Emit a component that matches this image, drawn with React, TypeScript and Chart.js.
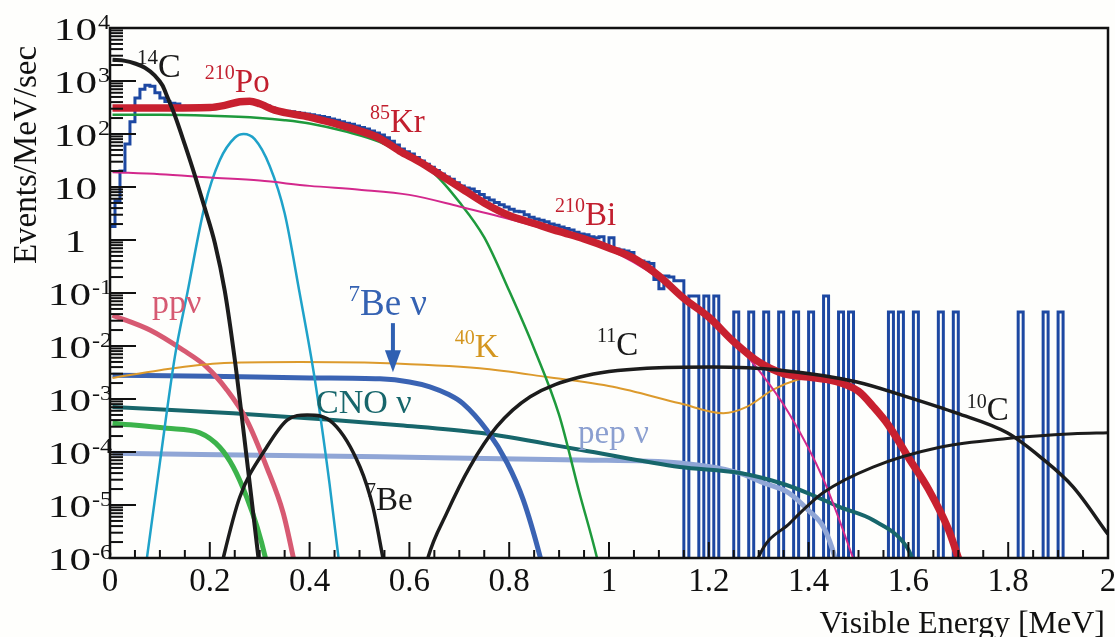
import React, { useEffect, useRef } from 'react';
import { Chart, registerables } from 'chart.js';

Chart.register(...registerables);

const SERIF = '"Liberation Serif", "Times New Roman", Times, serif';
const W = 1115;
const H = 637;

// Measured spectrum (Events/MeV/sec) in 0.01 MeV bins starting at 0 MeV
const BIN = 0.01;
const measured = [
  1.8, 5.5, 20, 65, 170, 480, 700, 830, 800, 600,
  480, 410, 380, 370, 335, 318, 312, 308, 314, 316,
  318, 326, 335, 350, 372, 392, 405, 418, 415, 396,
  370, 338, 310, 290, 278, 268, 262, 255, 247, 238,
  230, 222, 213, 204, 192, 182, 170, 160, 152, 142,
  133, 124, 114, 105, 96, 85, 73, 62, 52, 46,
  42, 36, 31, 27, 23.5, 20.5, 17.5, 15.5, 14, 12,
  10.5, 9.6, 9.2, 8.2, 7.2, 6.3, 5.7, 5.1, 4.6, 4.2,
  3.8, 3.5, 3.4, 3.0, 2.7, 2.5, 2.35, 2.2, 2.0, 1.9,
  1.75, 1.65, 1.55, 1.4, 1.3, 1.25, 1.15, 1.1, 1.15, 0.72,
  1.1, 0.68, 0.65, 0.62, 0.58, 0.42, 0.4, 0.38, 0.36, 0.18,
  0.12, 0.21, 0.2, 0.17, 0.17, 0, 0.088, 0.088, 0, 0.088,
  0, 0.088, 0, 0, 0, 0.044, 0, 0, 0.044, 0,
  0, 0.044, 0, 0, 0.044, 0, 0, 0.044, 0, 0,
  0.044, 0, 0, 0.088, 0, 0, 0.044, 0, 0.044, 0,
  0, 0, 0, 0, 0, 0, 0.044, 0, 0.044, 0,
  0, 0.044, 0, 0, 0, 0, 0.044, 0, 0, 0.044,
  0, 0, 0, 0, 0, 0, 0, 0, 0, 0,
  0, 0, 0.044, 0, 0, 0, 0, 0.044, 0, 0,
  0.044, 0, 0, 0, 0, 0, 0, 0, 0, 0,
];

// Best-fit total
const totalE = [0.005, 0.1, 0.2, 0.23, 0.26, 0.28, 0.3, 0.33, 0.4, 0.45, 0.5, 0.54, 0.58, 0.62, 0.66, 0.7, 0.75, 0.8, 0.85, 0.9, 0.95, 1.0, 1.05, 1.1, 1.15, 1.2, 1.25, 1.3, 1.35, 1.4, 1.45, 1.5, 1.53, 1.56, 1.6, 1.64, 1.68, 1.7, 1.72];
const totalV = [310, 310, 316, 347, 407, 417, 372, 282, 209, 158, 115, 83, 48, 30, 17.4, 10, 5.0, 2.9, 2.05, 1.45, 1.05, 0.71, 0.45, 0.21, 0.079, 0.035, 0.012, 0.005, 0.003, 0.0026, 0.0022, 0.0014, 7.1e-4, 3.2e-4, 7.9e-5, 2.0e-5, 3.5e-6, 1.0e-6, 2.5e-7];

// 14C
const c14E = [0.005, 0.03, 0.05, 0.07, 0.09, 0.105, 0.115, 0.13, 0.15, 0.17, 0.19, 0.21, 0.23, 0.25, 0.27, 0.29, 0.3];
const c14V = [2510, 2400, 2140, 1780, 1260, 830, 500, 224, 63, 16.6, 4.0, 0.89, 0.11, 5.6e-3, 1.6e-4, 4e-6, 6.3e-7];

// 210Po
const po210E = [0.074, 0.1, 0.13, 0.155, 0.19, 0.22, 0.25, 0.268, 0.29, 0.32, 0.35, 0.38, 0.41, 0.44, 0.458, 0.47];
const po210V = [1e-6, 6.3e-5, 6.3e-3, 0.1, 4.5, 32, 85, 100, 80, 25, 3.2, 0.1, 2.5e-3, 2.5e-5, 1e-6, 1e-7];

// 85Kr
const kr85E = [0.005, 0.1, 0.2, 0.3, 0.35, 0.4, 0.475, 0.54, 0.6, 0.65, 0.7, 0.75, 0.8, 0.85, 0.9, 0.94, 0.976, 0.99];
const kr85V = [230, 230, 220, 200, 182, 158, 110, 71, 35, 17.8, 5.2, 1.12, 0.11, 0.0089, 5e-4, 1.8e-5, 1e-6, 2.5e-7];

// 210Bi
const bi210E = [0.005, 0.1, 0.2, 0.3, 0.4, 0.5, 0.6, 0.7, 0.8, 0.9, 1.0, 1.1, 1.2, 1.26, 1.3, 1.36, 1.43, 1.489, 1.5];
const bi210V = [19, 17.4, 15.1, 13.2, 10.5, 8.9, 7.1, 4.3, 2.5, 1.35, 0.66, 0.19, 0.033, 0.0095, 3.5e-3, 5.5e-4, 3e-5, 1e-6, 5e-7];

// pp neutrinos
const ppE = [0.005, 0.08, 0.147, 0.194, 0.234, 0.274, 0.314, 0.347, 0.367, 0.38];
const ppV = [0.038, 0.02, 8.3e-3, 4e-3, 1.5e-3, 4e-4, 5.2e-5, 7.1e-6, 1.05e-6, 2.5e-7];

// 7Be neutrinos
const be7nuE = [0.005, 0.2, 0.4, 0.541, 0.6, 0.641, 0.68, 0.707, 0.755, 0.796, 0.828, 0.862, 0.875];
const be7nuV = [2.8e-3, 2.7e-3, 2.5e-3, 2.4e-3, 2.1e-3, 1.7e-3, 1.2e-3, 8.3e-4, 2.6e-4, 6.2e-5, 1.26e-5, 1.05e-6, 3.2e-7];

// 40K
const k40E = [0.005, 0.1, 0.214, 0.381, 0.541, 0.741, 0.876, 1.008, 1.142, 1.229, 1.276, 1.329, 1.377, 1.42];
const k40V = [2.5e-3, 3.5e-3, 4.7e-3, 5.0e-3, 4.8e-3, 3.8e-3, 2.6e-3, 1.7e-3, 8.3e-4, 5.4e-4, 7.1e-4, 1.5e-3, 2.3e-3, 2.75e-3];

// CNO neutrinos
const cnoE = [0.005, 0.247, 0.447, 0.581, 0.741, 0.942, 1.142, 1.262, 1.343, 1.397, 1.463, 1.529, 1.597, 1.607, 1.62];
const cnoV = [7.1e-4, 5.4e-4, 4e-4, 3.2e-4, 2.3e-4, 1.1e-4, 5.2e-5, 4e-5, 2.6e-5, 1.7e-5, 9.1e-6, 5.2e-6, 1.6e-6, 1e-6, 4e-7];

// low-energy green component
const lowE = [0.005, 0.114, 0.18, 0.22, 0.247, 0.274, 0.295, 0.311, 0.32];
const lowV = [3.5e-4, 2.8e-4, 2.3e-4, 1.23e-4, 5.2e-5, 1.4e-5, 3.8e-6, 1.05e-6, 4e-7];

// pep neutrinos
const pepE = [0.005, 0.541, 0.942, 1.142, 1.262, 1.31, 1.36, 1.4, 1.43, 1.453, 1.46];
const pepV = [9.5e-5, 8.1e-5, 7.1e-5, 6.2e-5, 4e-5, 2.6e-5, 1.7e-5, 7.9e-6, 3.8e-6, 1e-6, 5e-7];

// cosmogenic 7Be
const be7E = [0.22, 0.227, 0.26, 0.314, 0.355, 0.395, 0.447, 0.501, 0.527, 0.547, 0.555];
const be7V = [5e-7, 1e-6, 1.4e-5, 1.23e-4, 4e-4, 5e-4, 3.5e-4, 5.2e-5, 9.1e-6, 1e-6, 4e-7];

// 11C
const c11E = [0.63, 0.637, 0.675, 0.721, 0.775, 0.842, 0.942, 1.076, 1.208, 1.343, 1.497, 1.597, 1.697, 1.798, 1.864, 1.93, 2.0];
const c11V = [5e-7, 1e-6, 7.1e-6, 5.2e-5, 3e-4, 1.1e-3, 2.6e-3, 3.8e-3, 4e-3, 3.5e-3, 2.1e-3, 1.1e-3, 5.4e-4, 2.3e-4, 8.1e-5, 2.2e-5, 2.8e-6];

// 10C
const c10E = [1.29, 1.299, 1.363, 1.429, 1.529, 1.663, 1.798, 1.93, 2.0];
const c10V = [5e-7, 1e-6, 4.6e-6, 1.7e-5, 5.2e-5, 1.23e-4, 1.8e-4, 2.2e-4, 2.3e-4];

// Axis ticks
const yTickExponents = [4, 3, 2, 1, 0, -1, -2, -3, -4, -5, -6];
const xTickValues = [0, 0.2, 0.4, 0.6, 0.8, 1, 1.2, 1.4, 1.6, 1.8, 2];
const xTickLabels = ['0', '0.2', '0.4', '0.6', '0.8', '1', '1.2', '1.4', '1.6', '1.8', '2'];

// Component labels: left edge (MeV) and text baseline (Events/MeV/sec)
const labels = [
  { sup: '14', text: 'C', x: 0.054, y: 1190, size: 34, color: '#1a1a1a' },
  { sup: '210', text: 'Po', x: 0.19, y: 620, size: 33, color: '#c21f2e' },
  { sup: '85', text: 'Kr', x: 0.521, y: 110, size: 33, color: '#c21f2e' },
  { sup: '210', text: 'Bi', x: 0.892, y: 1.92, size: 33, color: '#c21f2e' },
  { sup: '', text: 'ppν', x: 0.084, y: 0.042, size: 34, color: '#d65a72' },
  { sup: '7', text: 'Be ν', x: 0.478, y: 0.0385, size: 37, color: '#3562b2' },
  { sup: '40', text: 'K', x: 0.691, y: 6.2e-3, size: 33, color: '#d4961f' },
  { sup: '11', text: 'C', x: 0.976, y: 6.8e-3, size: 33, color: '#1a1a1a' },
  { sup: '', text: 'CNO ν', x: 0.413, y: 5.4e-4, size: 34, color: '#17666b' },
  { sup: '', text: 'pep ν', x: 0.938, y: 1.48e-4, size: 33, color: '#8b9fd0' },
  { sup: '7', text: 'Be', x: 0.513, y: 8.1e-6, size: 33, color: '#1a1a1a' },
  { sup: '10', text: 'C', x: 1.717, y: 4e-4, size: 33, color: '#1a1a1a' },
];

// Arrow pointing at the 7Be neutrino shoulder
const arrow = { x: 0.567, from: 0.027, to: 3.2e-3, color: '#2f60b2' };

const pts = (e: number[], v: number[]) => e.map((x, i) => ({ x, y: v[i] }));

function histogram(values: number[]) {
  const out = values.map((v, i) => ({ x: Math.round(i * BIN * 100) / 100, y: v > 0 ? v : 1e-9 }));
  out.push({ x: Math.round(values.length * BIN * 100) / 100, y: out[out.length - 1].y });
  return out;
}

function curve(e: number[], v: number[], color: string, width: number, order: number) {
  return {
    data: pts(e, v),
    borderColor: color,
    borderWidth: width,
    pointRadius: 0,
    fill: false,
    cubicInterpolationMode: 'monotone' as const,
    order,
    clip: 0,
  };
}

function drawIsotope(ctx: CanvasRenderingContext2D, x: number, y: number, sup: string, text: string, size: number, color: string) {
  ctx.fillStyle = color;
  ctx.textAlign = 'left';
  ctx.textBaseline = 'alphabetic';
  let cx = x;
  if (sup) {
    ctx.font = `${Math.round(size * 0.62)}px ${SERIF}`;
    ctx.fillText(sup, cx, y - size * 0.38);
    cx += ctx.measureText(sup).width;
  }
  ctx.font = `${size}px ${SERIF}`;
  ctx.fillText(text, cx, y);
}

// text drawn with a horizontal stretch (the axis numerals are set wide)
function wideText(ctx: CanvasRenderingContext2D, s: string, x: number, y: number, align: CanvasTextAlign, stretch: number) {
  ctx.save();
  ctx.translate(x, y);
  ctx.scale(stretch, 1);
  ctx.textAlign = align;
  ctx.fillText(s, 0, 0);
  ctx.restore();
}

const backgroundPlugin = {
  id: 'paper',
  beforeDraw(chart: any) {
    const { ctx } = chart;
    ctx.save();
    ctx.fillStyle = '#fefefc';
    ctx.fillRect(0, 0, chart.width, chart.height);
    ctx.restore();
  },
};

const framePlugin = {
  id: 'frame',
  afterDraw(chart: any) {
    const { ctx, chartArea } = chart;
    const xs = chart.scales.x;
    const ys = chart.scales.y;
    const { left, right, top, bottom } = chartArea;
    ctx.save();
    ctx.strokeStyle = '#111';
    ctx.lineWidth = 2;
    ctx.lineCap = 'butt';

    // y ticks, pointing inward
    for (const e of yTickExponents) {
      const py = ys.getPixelForValue(Math.pow(10, e));
      ctx.beginPath();
      ctx.moveTo(left, py);
      ctx.lineTo(left + 26, py);
      ctx.stroke();
      if (e < 4) {
        for (let m = 2; m <= 9; m++) {
          const pm = ys.getPixelForValue(m * Math.pow(10, e));
          ctx.beginPath();
          ctx.moveTo(left, pm);
          ctx.lineTo(left + 13, pm);
          ctx.stroke();
        }
      }
    }
    // x ticks, pointing inward
    for (let i = 1; i < 40; i++) {
      const px = xs.getPixelForValue(i * 0.05);
      const len = i % 4 === 0 ? 16 : 8;
      ctx.beginPath();
      ctx.moveTo(px, bottom);
      ctx.lineTo(px, bottom - len);
      ctx.stroke();
    }
    // frame
    ctx.lineWidth = 2.5;
    ctx.strokeRect(left, top, right - left, bottom - top);

    // y tick labels
    ctx.fillStyle = '#111';
    ctx.textBaseline = 'alphabetic';
    for (const e of yTickExponents) {
      const py = ys.getPixelForValue(Math.pow(10, e));
      const base = e === 0 ? '1' : '10';
      const supText = e === 0 || e === 1 ? '' : String(e);
      ctx.font = `32px ${SERIF}`;
      const baseRight = e < 0 ? 91 : e === 0 ? 86 : 97;
      wideText(ctx, base, baseRight, py + 12, 'right', 1.35);
      if (supText) {
        ctx.font = `21px ${SERIF}`;
        wideText(ctx, supText, baseRight + 1, py + 1, 'left', 1.15);
      }
    }
    // x tick labels
    ctx.font = `33px ${SERIF}`;
    ctx.textAlign = 'center';
    xTickValues.forEach((v, i) => {
      ctx.fillText(xTickLabels[i], xs.getPixelForValue(v), 591);
    });

    // axis titles
    ctx.font = `32px ${SERIF}`;
    ctx.textAlign = 'right';
    ctx.fillText('Visible Energy [MeV]', 1105, 633);
    ctx.save();
    ctx.translate(36, 155);
    ctx.rotate(-Math.PI / 2);
    ctx.textAlign = 'center';
    ctx.font = `33px ${SERIF}`;
    ctx.fillText('Events/MeV/sec', 0, 0);
    ctx.restore();

    // component labels
    for (const l of labels) {
      drawIsotope(ctx, xs.getPixelForValue(l.x), ys.getPixelForValue(l.y), l.sup, l.text, l.size, l.color);
    }

    // arrow
    const ax = xs.getPixelForValue(arrow.x);
    const a0 = ys.getPixelForValue(arrow.from);
    const a1 = ys.getPixelForValue(arrow.to);
    ctx.strokeStyle = arrow.color;
    ctx.fillStyle = arrow.color;
    ctx.lineWidth = 4;
    ctx.beginPath();
    ctx.moveTo(ax, a0);
    ctx.lineTo(ax, a1 - 18);
    ctx.stroke();
    ctx.beginPath();
    ctx.moveTo(ax - 8, a1 - 22);
    ctx.lineTo(ax + 8, a1 - 22);
    ctx.lineTo(ax, a1);
    ctx.closePath();
    ctx.fill();

    ctx.restore();
  },
};

export default function App() {
  const ref = useRef<HTMLCanvasElement | null>(null);

  useEffect(() => {
    if (!ref.current) return;
    const datasets: any[] = [
      curve(c14E, c14V, '#1c1c1c', 4, 1),
      curve(be7E, be7V, '#1c1c1c', 3.5, 2),
      curve(c11E, c11V, '#1c1c1c', 3.5, 2),
      curve(c10E, c10V, '#1c1c1c', 3, 2),
      curve(totalE, totalV, '#c8202f', 7.5, 5),
      curve(bi210E, bi210V, '#d3288c', 2, 6),
      curve(kr85E, kr85V, '#1e9a3c', 2.5, 6),
      curve(po210E, po210V, '#1fa2c9', 2.5, 6),
      curve(k40E, k40V, '#dc9a2c', 2, 7),
      curve(ppE, ppV, '#d75a72', 5, 7),
      curve(be7nuE, be7nuV, '#3a63b3', 5, 7),
      curve(cnoE, cnoV, '#17666b', 4, 8),
      curve(lowE, lowV, '#3cb34b', 5, 8),
      curve(pepE, pepV, '#90a6d6', 5, 8),
      {
        data: histogram(measured),
        borderColor: '#1d48a2',
        borderWidth: 3,
        pointRadius: 0,
        fill: false,
        stepped: true,
        order: 20,
        clip: 0,
      },
    ];

    const chart = new Chart(ref.current, {
      type: 'line',
      data: { datasets },
      options: {
        responsive: false,
        animation: false,
        layout: { padding: { top: 28, right: 7, left: 0, bottom: 0 } },
        plugins: { legend: { display: false }, tooltip: { enabled: false } },
        elements: { point: { radius: 0 } },
        scales: {
          x: {
            type: 'linear',
            min: 0,
            max: 2,
            grid: { display: false },
            border: { display: false },
            ticks: { display: false },
            afterFit: (s: any) => {
              s.height = 79;
            },
          },
          y: {
            type: 'logarithmic',
            min: 1e-6,
            max: 1e4,
            grid: { display: false },
            border: { display: false },
            ticks: { display: false },
            afterFit: (s: any) => {
              s.width = 110;
            },
          },
        },
      },
      plugins: [backgroundPlugin, framePlugin],
    } as any);

    return () => chart.destroy();
  }, []);

  return (
    <div style={{ position: 'absolute', left: 0, top: 0, width: W, height: H, background: '#fefefc' }}>
      <canvas ref={ref} width={W} height={H} style={{ display: 'block', width: W, height: H }} />
    </div>
  );
}
